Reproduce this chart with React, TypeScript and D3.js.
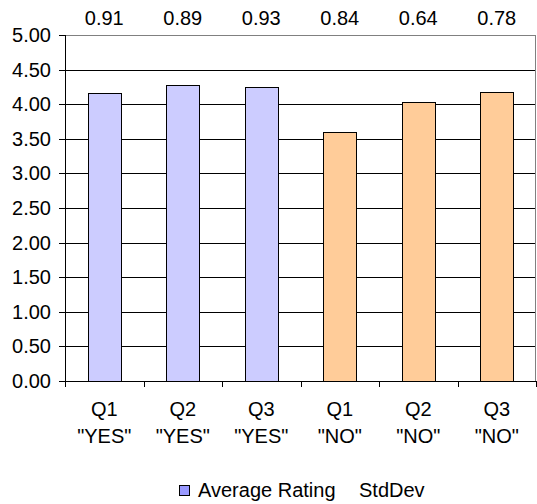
import { useMemo } from "react";
import * as d3 from "d3";

const WIDTH = 537;
const HEIGHT = 504;
const PLOT = { left: 65, right: 536, top: 35, bottom: 381 };

const questions = ["Q1", "Q2", "Q3", "Q1", "Q2", "Q3"];
const answers = ['"YES"', '"YES"', '"YES"', '"NO"', '"NO"', '"NO"'];
const averageRating = [4.16, 4.28, 4.25, 3.6, 4.03, 4.17];
const stdDev = [0.91, 0.89, 0.93, 0.84, 0.64, 0.78];
const yTicks = [0, 0.5, 1, 1.5, 2, 2.5, 3, 3.5, 4, 4.5, 5];

const YES_FILL = "#CCCCFF";
const NO_FILL = "#FFCC99";
const FONT = "'Liberation Sans', Arial, sans-serif";

const crisp = (v: number) => Math.round(v) + 0.5;

export default function App() {
  const idx = averageRating.map((_, i) => i);

  const xScale = useMemo(
    () =>
      d3
        .scaleBand<number>()
        .domain(idx)
        .range([PLOT.left, PLOT.right])
        .paddingInner(0.585)
        .paddingOuter(0.2925),
    []
  );

  const yScale = useMemo(
    () => d3.scaleLinear().domain([0, 5]).range([PLOT.bottom, PLOT.top]),
    []
  );

  const step = xScale.step();
  const center = (i: number) => (xScale(i) as number) + xScale.bandwidth() / 2;
  const boundaries = d3.range(idx.length + 1).map((i) => PLOT.left + i * step);

  return (
    <svg
      width={WIDTH}
      height={HEIGHT}
      style={{ position: "absolute", left: 0, top: 0, background: "#fff" }}
      fontFamily={FONT}
    >
      {/* gridlines */}
      {yTicks.slice(1).map((t) => (
        <line
          key={"g" + t}
          x1={PLOT.left}
          x2={PLOT.right}
          y1={crisp(yScale(t))}
          y2={crisp(yScale(t))}
          stroke={t === 5 ? "#808080" : "#000"}
          strokeWidth={1}
        />
      ))}
      {/* right frame */}
      <line
        x1={crisp(PLOT.right - 1)}
        x2={crisp(PLOT.right - 1)}
        y1={PLOT.top}
        y2={PLOT.bottom}
        stroke="#808080"
      />

      {/* bars */}
      {averageRating.map((v, i) => (
        <rect
          key={"b" + i}
          x={crisp(xScale(i) as number)}
          y={crisp(yScale(v))}
          width={Math.round(xScale.bandwidth())}
          height={Math.round(yScale(0)) - Math.round(yScale(v))}
          fill={i < 3 ? YES_FILL : NO_FILL}
          stroke="#000"
          strokeWidth={1}
        />
      ))}

      {/* y axis */}
      <line
        x1={crisp(PLOT.left)}
        x2={crisp(PLOT.left)}
        y1={PLOT.top}
        y2={crisp(PLOT.bottom)}
        stroke="#000"
      />
      {yTicks.map((t) => (
        <g key={"y" + t}>
          <line
            x1={PLOT.left - 6}
            x2={PLOT.left}
            y1={crisp(yScale(t))}
            y2={crisp(yScale(t))}
            stroke="#000"
          />
          <text
            x={51}
            y={yScale(t) + 7}
            textAnchor="end"
            fontSize={20}
            fill="#000"
          >
            {d3.format(".2f")(t)}
          </text>
        </g>
      ))}

      {/* x axis */}
      <line
        x1={PLOT.left}
        x2={PLOT.right}
        y1={crisp(PLOT.bottom)}
        y2={crisp(PLOT.bottom)}
        stroke="#000"
      />
      {boundaries.map((b, i) => (
        <line
          key={"t" + i}
          x1={crisp(b)}
          x2={crisp(b)}
          y1={PLOT.bottom}
          y2={PLOT.bottom + 6}
          stroke="#000"
        />
      ))}
      {idx.map((i) => (
        <text key={"x" + i} textAnchor="middle" fontSize={20} fill="#000">
          <tspan x={center(i)} y={416}>
            {questions[i]}
          </tspan>
          <tspan x={center(i)} y={443}>
            {answers[i]}
          </tspan>
        </text>
      ))}

      {/* std dev labels on top */}
      {stdDev.map((s, i) => (
        <text
          key={"s" + i}
          x={center(i)}
          y={25}
          textAnchor="middle"
          fontSize={20}
          fill="#000"
        >
          {d3.format(".2f")(s)}
        </text>
      ))}

      {/* legend */}
      <rect x={179.5} y={485.5} width={10} height={10} fill="#9999FF" stroke="#000" />
      <text x={198} y={497} fontSize={20} fill="#000">
        Average Rating
      </text>
      <text x={359} y={497} fontSize={20} fill="#000">
        StdDev
      </text>
    </svg>
  );
}
